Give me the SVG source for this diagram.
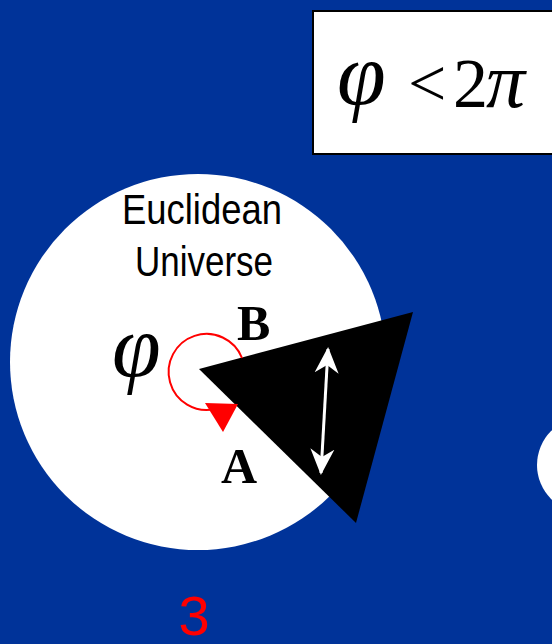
<svg xmlns="http://www.w3.org/2000/svg" width="552" height="644" viewBox="0 0 552 644">
<style>
.serif{font-family:"Liberation Serif","Times New Roman",serif}
.it{font-style:italic}
.bold{font-weight:bold}
.sans{font-family:"Liberation Sans",Arial,sans-serif}
</style>
<defs>
<marker id="wh" viewBox="0 0 26 26" refX="24" refY="13" markerWidth="26" markerHeight="26" markerUnits="userSpaceOnUse" orient="auto-start-reverse">
<path d="M0,1 L26,13 L0,25 L8,13 Z" fill="#fff"/>
</marker>
</defs>
<rect width="552" height="644" fill="#003399"/>
<g id="box">
<rect x="313" y="11" width="245" height="143" fill="#fff" stroke="#000" stroke-width="2"/>
<text class="serif it" x="337" y="104" font-size="88">φ</text>
<text class="serif" x="408" y="106" font-size="68">&lt;</text>
<text class="serif" x="453" y="107" font-size="70">2</text>
<text class="serif it" x="486" y="107" font-size="78">π</text>
</g>
<g id="circle-right">
<circle cx="585" cy="465" r="48" fill="#fff"/>
</g>
<g id="universe">
<circle cx="198" cy="362" r="188" fill="#fff"/>
<text class="sans" x="202" y="224" font-size="42" text-anchor="middle" textLength="160" lengthAdjust="spacingAndGlyphs">Euclidean</text>
<text class="sans" x="204" y="276" font-size="42" text-anchor="middle" textLength="138" lengthAdjust="spacingAndGlyphs">Universe</text>
</g>
<g id="wedge">
<polygon points="199,369 413,312 356,523" fill="#000"/>
</g>
<g id="connectors">
<path d="M242,358 A38,38 0 1 0 215,409" fill="none" stroke="#f00" stroke-width="2"/>
<polygon points="205,403 238,404 223,432" fill="#f00"/>
<line x1="328" y1="349" x2="321" y2="473" stroke="#fff" stroke-width="3" marker-start="url(#wh)" marker-end="url(#wh)"/>
</g>
<g id="labels">
<text class="serif it" x="112" y="376" font-size="88">φ</text>
<text class="serif bold" x="237" y="340" font-size="50">B</text>
<text class="serif bold" x="221" y="483" font-size="50">A</text>
<text class="sans" x="194" y="635" font-size="56" fill="#f00" text-anchor="middle">3</text>
</g>
</svg>
